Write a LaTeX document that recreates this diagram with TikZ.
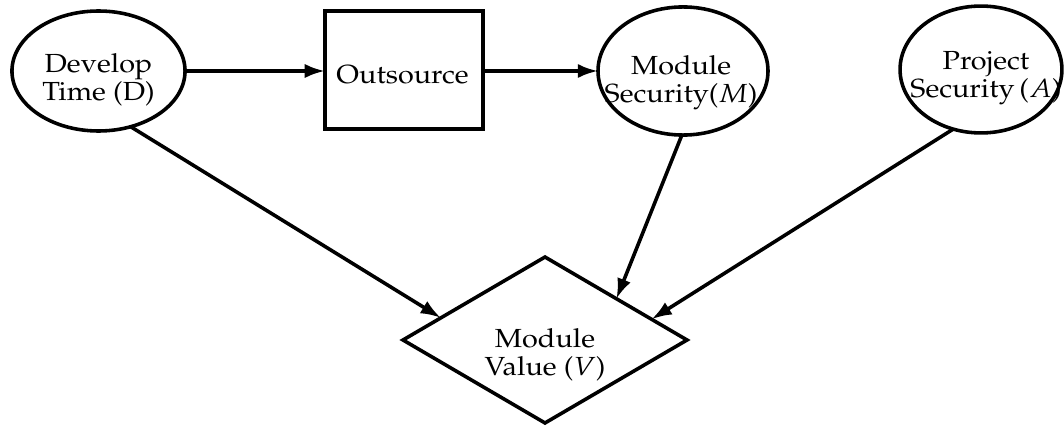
\documentclass[tikz,border=0pt]{standalone}
\usepackage[T1]{fontenc}
\usepackage{mathpazo}
\usepackage{graphicx}
\usetikzlibrary{shapes.geometric,arrows.meta}

% text is set slightly wider than tall, as in the printed figure
\newcommand\stretchedlabel[1]{\scalebox{1.1}[1]{\begin{tabular}{@{}c@{}}#1\end{tabular}}}

\tikzset{
  px/.style={x=0.42pt,y=-0.42pt},
  shapeline/.style={draw,line width=1.5pt,inner sep=0pt,outer sep=0pt},
  oval/.style={shapeline,ellipse},
  box/.style={shapeline,rectangle},
  decision/.style={shapeline,diamond,aspect=1.7},
  link/.style={line width=1.5pt,-{Latex[length=8.5pt,width=6pt]}},
  caption/.style={font=\fontsize{11}{11.8}\selectfont,inner sep=0pt,outer sep=0pt}
}

\begin{document}
\begin{tikzpicture}[px]
\useasboundingbox (0,0) rectangle (1064,426);

% variables
\node[oval,minimum width=72.7pt,minimum height=50.4pt,
  label={[caption,yshift=-4.2pt]center:\stretchedlabel{Develop\\Time (D)}}]
  (dev) at (98.5,71) {};
\node[box,minimum width=66.4pt,minimum height=49.6pt,
  label={[caption,yshift=-2pt,xshift=-0.6pt]center:\scalebox{1.1}[1]{Outsource}}]
  (out) at (404,70) {};
\node[oval,minimum width=71.4pt,minimum height=53.8pt,
  label={[caption,yshift=-5pt,xshift=-0.8pt]center:\stretchedlabel{Module\\Security($M$)}}]
  (mod) at (683,71) {};
\node[oval,minimum width=68pt,minimum height=53.3pt,
  label={[caption,yshift=-3.7pt,xshift=2.1pt]center:\stretchedlabel{Project\\Security\,($A$)}}]
  (proj) at (981,69.5) {};
\node[decision,minimum width=119.3pt,minimum height=69.7pt,
  label={[caption,yshift=-6.7pt]center:\stretchedlabel{Module\\Value ($V$)}}]
  (val) at (545,340) {};

% dependencies
\draw[link] (dev.east) -- (dev.east -| out.west);
\draw[link] (out.east |- mod.west) -- (mod.west);
\draw[link] (dev.-60) -- (val.168.5);
\draw[link] (mod.-91) -- (val.30.8);
\draw[link] (proj.-115) -- (val.11.5);
\end{tikzpicture}
\end{document}
